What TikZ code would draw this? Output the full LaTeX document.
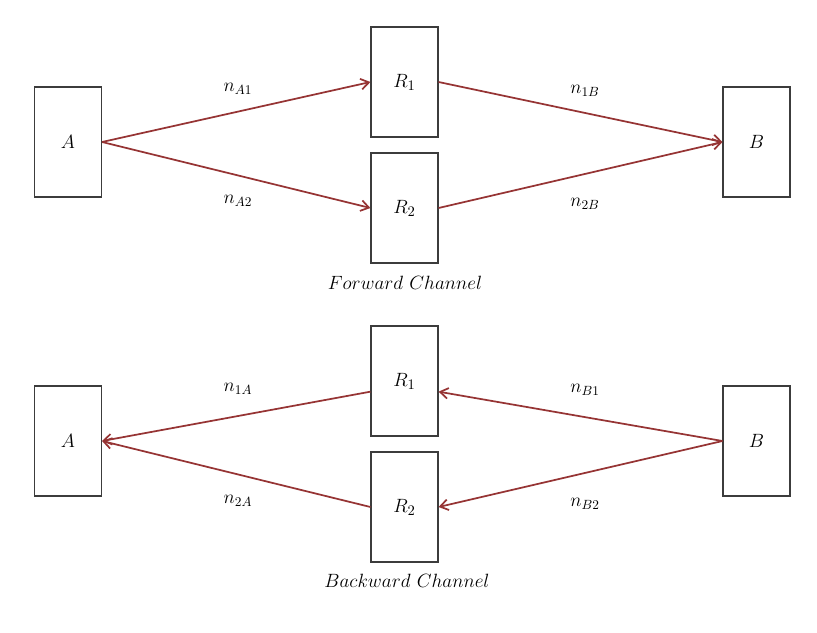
\documentclass[tikz,border=0pt]{standalone}
\usetikzlibrary{arrows.meta}
\definecolor{arr}{RGB}{150,52,52}
\definecolor{boxc}{RGB}{60,60,60}
\begin{document}
\begin{tikzpicture}[x=0.75pt,y=-0.75pt,
  box/.style={draw=boxc,line width=1.1pt,minimum width=50pt,minimum height=82.5pt,inner sep=0pt,font=\fontsize{15}{18}\selectfont},
  link/.style={draw=arr,line width=1.3pt,-{Straight Barb[length=6pt,width=8pt,line width=1.3pt]}},
  lbl/.style={font=\fontsize{14.5}{17}\selectfont},
  captext/.style={font=\fontsize{14.5}{17}\selectfont}]
\useasboundingbox (0,0) rectangle (817,632);
% forward
\node[box] (A) at (68,142) {$A$};
\node[box] (R1) at (404.5,82) {$R_1$};
\node[box] (R2) at (404.5,208) {$R_2$};
\node[box] (B) at (756.5,142) {$B$};
\draw[link] (A.east) -- (R1.west);
\draw[link] (A.east) -- (R2.west);
\draw[link] (R1.east) -- (B.west);
\draw[link] (R2.east) -- (B.west);
\node[lbl] (l1) at (238,89) {$n_{A1}$};
\node[lbl] (l2) at (238,201) {$n_{A2}$};
\node[lbl] (l3) at (585,91) {$n_{1B}$};
\node[lbl] (l4) at (585,204) {$n_{2B}$};
\node[captext] (fc) at (405,283) {$Forward\ Channel$};
% backward
\node[box] (bA) at (68,441) {$A$};
\node[box] (bR1) at (404.5,381) {$R_1$};
\node[box] (bR2) at (404.5,507) {$R_2$};
\node[box] (bB) at (756.5,441) {$B$};
\draw[link] ([yshift=-8pt]bR1.west) -- (bA.east);
\draw[link] (bR2.west) -- (bA.east);
\draw[link] (bB.west) -- ([yshift=-8pt]bR1.east);
\draw[link] (bB.west) -- (bR2.east);
\node[lbl] (m1) at (238,389) {$n_{1A}$};
\node[lbl] (m2) at (238,501) {$n_{2A}$};
\node[lbl] (m3) at (585,390) {$n_{B1}$};
\node[lbl] (m4) at (585,504) {$n_{B2}$};
\node[captext] (bc) at (407,581) {$Backward\ Channel$};
\end{tikzpicture}
\end{document}
